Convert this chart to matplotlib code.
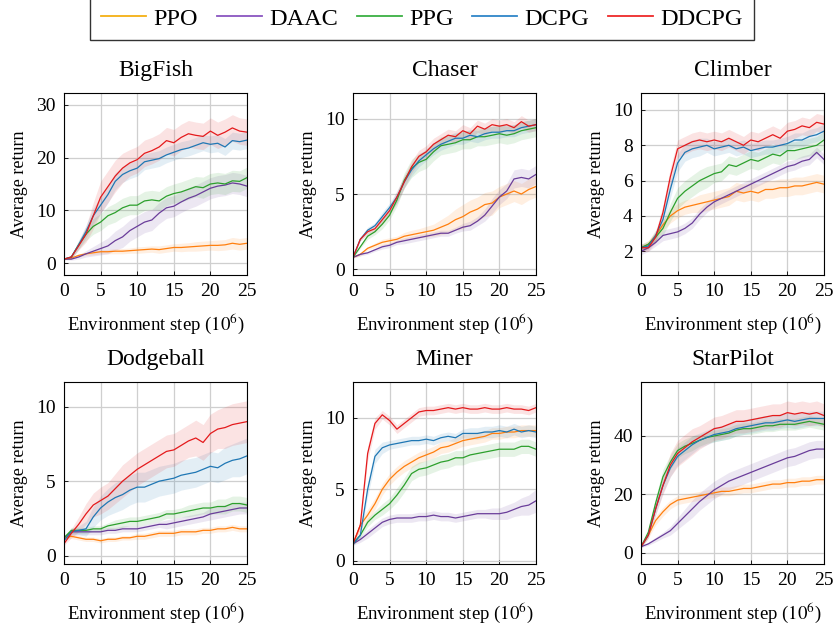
import matplotlib
matplotlib.use("Agg")
import matplotlib.pyplot as plt
import numpy as np

plt.rcParams['font.family'] = ['Liberation Serif', 'DejaVu Serif']
plt.rcParams['mathtext.fontset'] = 'stix'

steps = list(range(26))  # environment step (1e6)
methods = ["PPO", "DAAC", "PPG", "DCPG", "DDCPG"]
colors = ["#ff7f0e", "#6a3d9a", "#2ca02c", "#1f77b4", "#e41a1c"]
legend_colors = ["#f5b014", "#8a55c0", "#3cb043", "#2f86c8", "#ee2a2a"]
games = ["BigFish", "Chaser", "Climber", "Dodgeball", "Miner", "StarPilot"]

bigfish_mean = {
    "PPO":   [0.8, 1.0, 1.5, 1.8, 2.0, 2.2, 2.2, 2.3, 2.3, 2.4, 2.5, 2.6, 2.7, 2.6, 2.8, 3.0, 3.0, 3.1, 3.2, 3.3, 3.4, 3.4, 3.5, 3.8, 3.6, 3.8],
    "DAAC":  [0.8, 0.8, 1.2, 1.8, 2.3, 2.8, 3.3, 4.3, 5.0, 6.2, 7.0, 7.8, 8.2, 9.5, 10.5, 10.8, 11.6, 12.3, 12.8, 13.5, 14.2, 14.6, 14.8, 15.2, 15.0, 14.6],
    "PPG":   [0.8, 1.2, 3.5, 5.5, 7.0, 7.8, 9.0, 9.6, 10.5, 11.0, 11.0, 11.8, 12.0, 11.8, 12.7, 13.2, 13.5, 14.0, 14.5, 14.3, 15.0, 15.2, 15.0, 15.6, 15.5, 16.2],
    "DCPG":  [0.8, 1.2, 3.5, 6.0, 9.0, 11.0, 13.0, 15.5, 16.8, 17.5, 18.0, 19.2, 19.5, 19.8, 20.5, 21.0, 21.5, 21.8, 22.3, 22.8, 22.5, 22.7, 22.0, 23.2, 23.0, 23.3],
    "DDCPG": [0.8, 1.2, 3.3, 5.5, 9.0, 12.5, 14.5, 16.5, 18.0, 19.0, 19.6, 20.8, 21.3, 22.0, 23.2, 22.8, 23.8, 24.5, 24.2, 24.0, 25.0, 24.2, 24.8, 25.6, 25.0, 24.8],
}
bigfish_std = {
    "PPO":   [0.1, 0.2, 0.3, 0.3, 0.4, 0.4, 0.4, 0.5, 0.5, 0.5, 0.6, 0.6, 0.6, 0.7, 0.7, 0.7, 0.8, 0.8, 0.9, 0.9, 0.9, 1.0, 1.0, 1.1, 1.1, 1.1],
    "DAAC":  [0.1, 0.2, 0.4, 0.6, 0.9, 1.2, 1.5, 1.8, 2.0, 2.0, 2.0, 2.0, 2.0, 2.0, 2.0, 2.0, 2.0, 2.0, 2.0, 2.0, 2.0, 2.0, 2.0, 2.0, 2.0, 2.0],
    "PPG":   [0.1, 0.3, 0.8, 1.2, 1.5, 1.6, 1.7, 1.8, 1.8, 1.8, 1.8, 1.8, 1.8, 1.8, 1.8, 1.8, 1.9, 1.9, 1.9, 2.0, 2.0, 2.0, 2.0, 2.0, 2.0, 2.0],
    "DCPG":  [0.1, 0.3, 0.8, 1.2, 1.5, 1.6, 1.6, 1.6, 1.5, 1.5, 1.5, 1.5, 1.5, 1.5, 1.5, 1.5, 1.5, 1.5, 1.5, 1.5, 1.6, 1.6, 1.6, 1.6, 1.6, 1.6],
    "DDCPG": [0.1, 0.3, 0.8, 1.5, 2.5, 3.0, 3.0, 3.0, 2.8, 2.5, 2.5, 2.5, 2.5, 2.5, 2.5, 2.5, 2.5, 2.5, 2.5, 2.5, 2.5, 2.5, 2.5, 2.5, 2.5, 2.5],
}

chaser_mean = {
    "PPO":   [0.8, 1.0, 1.4, 1.6, 1.8, 1.9, 2.0, 2.2, 2.3, 2.4, 2.5, 2.6, 2.8, 3.0, 3.3, 3.5, 3.8, 4.0, 4.3, 4.4, 4.8, 5.0, 5.2, 5.0, 5.3, 5.5],
    "DAAC":  [0.8, 1.0, 1.1, 1.3, 1.5, 1.6, 1.8, 1.9, 2.0, 2.1, 2.2, 2.3, 2.4, 2.4, 2.6, 2.8, 2.9, 3.2, 3.6, 4.2, 4.8, 5.2, 6.0, 6.1, 6.0, 6.3],
    "PPG":   [0.8, 1.5, 2.2, 2.5, 3.0, 3.6, 4.6, 5.9, 6.7, 7.1, 7.3, 7.8, 8.2, 8.3, 8.4, 8.6, 8.6, 8.8, 8.8, 8.9, 9.0, 8.9, 9.0, 9.2, 9.3, 9.4],
    "DCPG":  [0.8, 2.0, 2.6, 2.9, 3.5, 4.1, 4.8, 5.8, 6.6, 7.2, 7.6, 8.0, 8.3, 8.5, 8.7, 8.7, 8.9, 8.8, 9.0, 9.1, 9.1, 9.2, 9.2, 9.4, 9.5, 9.6],
    "DDCPG": [0.8, 2.0, 2.5, 2.7, 3.3, 3.9, 4.8, 5.8, 6.8, 7.5, 7.8, 8.3, 8.6, 8.9, 8.8, 9.2, 9.0, 9.5, 9.3, 9.6, 9.5, 9.6, 9.4, 9.8, 9.5, 9.6],
}
chaser_std = {
    "PPO":   [0.05, 0.1, 0.1, 0.15, 0.2, 0.2, 0.2, 0.25, 0.3, 0.3, 0.35, 0.4, 0.5, 0.6, 0.7, 0.8, 0.8, 0.8, 0.8, 0.8, 0.7, 0.7, 0.7, 0.7, 0.7, 0.7],
    "DAAC":  [0.05, 0.1, 0.1, 0.1, 0.15, 0.15, 0.15, 0.2, 0.2, 0.2, 0.2, 0.2, 0.2, 0.2, 0.2, 0.25, 0.3, 0.3, 0.4, 0.5, 0.5, 0.5, 0.6, 0.6, 0.6, 0.6],
    "PPG":   [0.05, 0.1, 0.2, 0.2, 0.3, 0.3, 0.4, 0.5, 0.6, 0.6, 0.6, 0.6, 0.6, 0.6, 0.6, 0.6, 0.6, 0.6, 0.6, 0.6, 0.6, 0.6, 0.6, 0.6, 0.6, 0.6],
    "DCPG":  [0.05, 0.1, 0.2, 0.2, 0.3, 0.3, 0.4, 0.4, 0.4, 0.4, 0.4, 0.4, 0.4, 0.4, 0.4, 0.4, 0.4, 0.4, 0.4, 0.4, 0.4, 0.4, 0.4, 0.4, 0.4, 0.4],
    "DDCPG": [0.05, 0.1, 0.2, 0.2, 0.3, 0.3, 0.4, 0.4, 0.4, 0.4, 0.4, 0.4, 0.4, 0.4, 0.4, 0.4, 0.4, 0.4, 0.4, 0.4, 0.4, 0.4, 0.4, 0.4, 0.4, 0.4],
}

climber_mean = {
    "PPO":   [2.2, 2.4, 2.9, 3.5, 4.0, 4.3, 4.5, 4.6, 4.7, 4.8, 4.9, 5.0, 5.1, 5.4, 5.3, 5.4, 5.3, 5.5, 5.5, 5.6, 5.6, 5.7, 5.7, 5.8, 5.9, 5.8],
    "DAAC":  [2.0, 2.2, 2.5, 2.9, 3.0, 3.1, 3.3, 3.6, 4.1, 4.5, 4.8, 5.0, 5.2, 5.4, 5.6, 5.8, 6.0, 6.2, 6.4, 6.6, 6.8, 6.9, 7.1, 7.2, 7.6, 7.2],
    "PPG":   [2.2, 2.4, 2.8, 3.3, 4.2, 5.0, 5.4, 5.7, 6.0, 6.2, 6.4, 6.5, 6.9, 6.8, 7.0, 7.2, 7.1, 7.3, 7.5, 7.4, 7.7, 7.7, 7.8, 7.9, 8.0, 8.3],
    "DCPG":  [2.2, 2.3, 2.9, 3.8, 5.5, 7.0, 7.6, 7.8, 7.9, 8.0, 7.8, 7.9, 8.0, 7.8, 7.9, 7.7, 7.8, 7.9, 7.9, 8.0, 8.1, 8.3, 8.3, 8.5, 8.6, 8.8],
    "DDCPG": [2.2, 2.2, 2.8, 4.2, 6.2, 7.8, 8.0, 8.2, 8.3, 8.2, 8.3, 8.2, 8.4, 8.2, 8.0, 8.3, 8.2, 8.4, 8.6, 8.4, 8.8, 8.9, 9.1, 9.0, 9.3, 9.2],
}
climber_std = {
    "PPO":   [0.2, 0.2, 0.3, 0.3, 0.4, 0.4, 0.4, 0.4, 0.5, 0.5, 0.5, 0.5, 0.5, 0.5, 0.5, 0.5, 0.5, 0.5, 0.5, 0.5, 0.5, 0.5, 0.5, 0.5, 0.5, 0.5],
    "DAAC":  [0.2, 0.2, 0.2, 0.3, 0.3, 0.3, 0.3, 0.3, 0.3, 0.3, 0.3, 0.3, 0.3, 0.3, 0.3, 0.3, 0.3, 0.3, 0.3, 0.3, 0.3, 0.3, 0.3, 0.3, 0.3, 0.3],
    "PPG":   [0.2, 0.2, 0.3, 0.4, 0.5, 0.6, 0.6, 0.6, 0.6, 0.6, 0.5, 0.5, 0.5, 0.5, 0.5, 0.5, 0.5, 0.5, 0.5, 0.5, 0.5, 0.5, 0.5, 0.5, 0.5, 0.5],
    "DCPG":  [0.2, 0.2, 0.3, 0.4, 0.5, 0.5, 0.5, 0.5, 0.5, 0.4, 0.4, 0.4, 0.4, 0.4, 0.4, 0.4, 0.4, 0.4, 0.4, 0.4, 0.4, 0.4, 0.4, 0.4, 0.4, 0.4],
    "DDCPG": [0.2, 0.2, 0.3, 0.4, 0.5, 0.5, 0.5, 0.5, 0.5, 0.5, 0.5, 0.5, 0.5, 0.5, 0.5, 0.5, 0.5, 0.5, 0.5, 0.5, 0.5, 0.5, 0.5, 0.5, 0.5, 0.5],
}

dodgeball_mean = {
    "PPO":   [1.2, 1.3, 1.2, 1.1, 1.1, 1.0, 1.1, 1.1, 1.2, 1.2, 1.3, 1.3, 1.4, 1.5, 1.5, 1.5, 1.6, 1.6, 1.6, 1.7, 1.7, 1.8, 1.8, 1.9, 1.8, 1.8],
    "DAAC":  [1.2, 1.6, 1.6, 1.6, 1.6, 1.6, 1.7, 1.7, 1.8, 1.8, 1.8, 1.9, 2.0, 2.1, 2.1, 2.2, 2.3, 2.4, 2.5, 2.6, 2.8, 2.9, 3.0, 3.1, 3.2, 3.2],
    "PPG":   [1.2, 1.7, 1.7, 1.7, 1.8, 1.8, 2.0, 2.1, 2.2, 2.3, 2.3, 2.4, 2.5, 2.6, 2.8, 2.8, 2.9, 3.0, 3.1, 3.2, 3.2, 3.3, 3.3, 3.5, 3.5, 3.4],
    "DCPG":  [1.0, 1.6, 1.7, 1.8, 2.6, 3.2, 3.6, 3.9, 4.1, 4.4, 4.6, 4.6, 4.8, 5.0, 5.1, 5.2, 5.4, 5.5, 5.6, 5.8, 6.0, 5.9, 6.2, 6.4, 6.5, 6.7],
    "DDCPG": [0.8, 1.5, 2.1, 2.8, 3.4, 3.7, 4.0, 4.5, 5.0, 5.4, 5.8, 6.1, 6.4, 6.7, 7.0, 7.1, 7.4, 7.7, 7.9, 7.6, 8.2, 8.5, 8.6, 8.8, 8.9, 9.0],
}
dodgeball_std = {
    "PPO":   [0.1, 0.15, 0.15, 0.15, 0.15, 0.15, 0.15, 0.15, 0.15, 0.15, 0.2, 0.2, 0.2, 0.2, 0.2, 0.2, 0.2, 0.2, 0.2, 0.2, 0.2, 0.2, 0.2, 0.2, 0.2, 0.2],
    "DAAC":  [0.1, 0.2, 0.2, 0.2, 0.2, 0.2, 0.2, 0.2, 0.2, 0.2, 0.2, 0.2, 0.2, 0.2, 0.3, 0.3, 0.3, 0.3, 0.3, 0.3, 0.4, 0.4, 0.4, 0.4, 0.4, 0.4],
    "PPG":   [0.1, 0.2, 0.2, 0.2, 0.2, 0.2, 0.2, 0.3, 0.3, 0.3, 0.3, 0.3, 0.3, 0.3, 0.3, 0.3, 0.3, 0.4, 0.4, 0.4, 0.4, 0.5, 0.5, 0.5, 0.5, 0.5],
    "DCPG":  [0.1, 0.2, 0.3, 0.5, 0.7, 0.8, 0.9, 1.0, 1.0, 1.0, 1.0, 1.0, 1.0, 1.0, 1.0, 1.0, 1.0, 1.0, 1.0, 1.0, 1.0, 1.0, 1.1, 1.1, 1.2, 1.2],
    "DDCPG": [0.1, 0.3, 0.5, 0.7, 0.8, 0.9, 0.9, 1.0, 1.1, 1.1, 1.1, 1.1, 1.1, 1.1, 1.1, 1.1, 1.1, 1.1, 1.2, 1.2, 1.3, 1.3, 1.4, 1.4, 1.4, 1.4],
}

miner_mean = {
    "PPO":   [1.2, 2.5, 3.2, 4.0, 5.0, 5.7, 6.2, 6.6, 6.9, 7.2, 7.4, 7.6, 7.9, 8.0, 8.2, 8.4, 8.5, 8.6, 8.7, 8.9, 8.9, 9.0, 9.0, 9.1, 9.1, 9.1],
    "DAAC":  [1.2, 1.5, 1.9, 2.3, 2.7, 2.9, 3.0, 3.0, 3.0, 3.1, 3.1, 3.2, 3.1, 3.1, 3.0, 3.1, 3.2, 3.3, 3.3, 3.3, 3.3, 3.4, 3.6, 3.8, 3.9, 4.2],
    "PPG":   [1.2, 1.8, 2.7, 3.2, 3.6, 4.0, 4.6, 5.3, 6.1, 6.4, 6.5, 6.7, 6.9, 7.0, 7.2, 7.2, 7.4, 7.5, 7.6, 7.7, 7.8, 7.8, 7.8, 8.0, 8.0, 7.8],
    "DCPG":  [1.2, 1.8, 5.0, 7.3, 7.9, 8.1, 8.2, 8.3, 8.4, 8.4, 8.5, 8.4, 8.6, 8.7, 8.6, 8.9, 8.9, 8.9, 9.0, 9.0, 9.1, 9.0, 9.2, 9.0, 9.1, 9.0],
    "DDCPG": [1.2, 2.5, 7.5, 9.6, 10.2, 9.8, 9.2, 9.6, 10.0, 10.4, 10.5, 10.5, 10.6, 10.7, 10.6, 10.7, 10.6, 10.6, 10.7, 10.6, 10.6, 10.7, 10.6, 10.6, 10.5, 10.7],
}
miner_std = {
    "PPO":   [0.1, 0.3, 0.4, 0.4, 0.4, 0.4, 0.4, 0.4, 0.4, 0.4, 0.4, 0.4, 0.4, 0.4, 0.4, 0.4, 0.4, 0.4, 0.4, 0.4, 0.4, 0.4, 0.4, 0.4, 0.4, 0.4],
    "DAAC":  [0.1, 0.2, 0.3, 0.3, 0.3, 0.3, 0.3, 0.3, 0.3, 0.3, 0.3, 0.3, 0.3, 0.3, 0.3, 0.3, 0.3, 0.3, 0.3, 0.4, 0.4, 0.5, 0.5, 0.6, 0.7, 0.8],
    "PPG":   [0.1, 0.2, 0.3, 0.3, 0.4, 0.4, 0.5, 0.5, 0.5, 0.5, 0.5, 0.5, 0.5, 0.5, 0.5, 0.5, 0.5, 0.5, 0.5, 0.5, 0.5, 0.5, 0.5, 0.5, 0.5, 0.5],
    "DCPG":  [0.1, 0.2, 0.5, 0.5, 0.4, 0.3, 0.3, 0.3, 0.3, 0.3, 0.3, 0.3, 0.3, 0.3, 0.3, 0.3, 0.4, 0.4, 0.4, 0.4, 0.4, 0.4, 0.4, 0.4, 0.4, 0.4],
    "DDCPG": [0.1, 0.3, 0.5, 0.4, 0.3, 0.3, 0.3, 0.3, 0.3, 0.3, 0.3, 0.3, 0.3, 0.3, 0.3, 0.3, 0.3, 0.3, 0.3, 0.3, 0.3, 0.3, 0.3, 0.3, 0.3, 0.3],
}

starpilot_mean = {
    "PPO":   [2.0, 6.0, 11.0, 14.0, 16.5, 18.0, 18.5, 19.0, 19.5, 20.0, 20.5, 21.0, 21.0, 21.5, 22.0, 22.0, 22.5, 23.0, 23.5, 23.5, 24.0, 24.0, 24.5, 24.5, 25.0, 25.0],
    "DAAC":  [2.0, 3.0, 4.5, 6.0, 7.5, 10.0, 12.5, 15.0, 17.5, 19.5, 21.5, 23.0, 24.5, 25.5, 26.5, 27.5, 28.5, 29.5, 30.5, 31.5, 32.5, 33.0, 34.0, 35.0, 35.5, 35.5],
    "PPG":   [2.0, 7.0, 17.0, 26.0, 31.0, 35.0, 36.5, 37.5, 38.5, 39.5, 40.0, 40.5, 41.0, 42.0, 42.5, 42.5, 43.0, 43.5, 43.5, 44.0, 44.0, 44.0, 44.5, 45.0, 44.5, 44.0],
    "DCPG":  [2.0, 6.0, 15.0, 23.0, 29.0, 33.0, 35.0, 37.0, 38.5, 39.5, 40.5, 41.0, 41.5, 42.5, 43.0, 43.5, 44.0, 44.5, 44.5, 45.0, 45.5, 45.0, 45.5, 46.0, 46.0, 46.0],
    "DDCPG": [2.0, 6.0, 15.0, 23.0, 30.0, 34.0, 36.0, 38.0, 39.5, 41.0, 42.5, 43.0, 44.0, 45.0, 45.0, 45.5, 46.0, 46.5, 47.0, 47.0, 48.0, 47.5, 48.0, 47.5, 48.0, 47.0],
}
starpilot_std = {
    "PPO":   [0.3, 1.0, 1.5, 1.5, 1.5, 1.5, 1.5, 1.5, 1.5, 1.5, 1.5, 1.5, 1.5, 1.5, 1.5, 1.5, 1.5, 1.5, 1.5, 1.5, 1.5, 1.5, 1.5, 1.5, 1.5, 1.5],
    "DAAC":  [0.3, 0.5, 0.8, 1.0, 1.5, 2.0, 2.5, 3.0, 3.0, 3.0, 3.0, 3.0, 3.0, 3.0, 3.0, 3.0, 3.0, 3.0, 3.0, 3.0, 3.0, 3.0, 3.0, 3.0, 3.0, 3.0],
    "PPG":   [0.3, 1.0, 2.0, 2.5, 2.5, 2.5, 2.5, 2.5, 2.0, 2.0, 2.0, 2.0, 2.0, 2.0, 2.0, 2.0, 2.0, 2.0, 2.0, 2.0, 2.0, 2.0, 2.0, 2.0, 2.0, 2.0],
    "DCPG":  [0.3, 1.0, 2.0, 2.5, 3.0, 3.0, 3.0, 3.0, 2.5, 2.5, 2.5, 2.5, 2.5, 2.5, 2.5, 2.5, 2.5, 2.5, 2.5, 2.5, 2.5, 2.5, 2.5, 2.5, 2.5, 2.5],
    "DDCPG": [0.3, 1.0, 2.0, 3.0, 4.0, 4.5, 4.5, 4.5, 4.0, 4.0, 4.0, 4.0, 4.0, 4.0, 4.0, 4.0, 4.0, 4.0, 4.0, 4.0, 4.0, 4.0, 4.0, 4.0, 4.0, 4.0],
}

means = [bigfish_mean, chaser_mean, climber_mean, dodgeball_mean, miner_mean, starpilot_mean]
stds = [bigfish_std, chaser_std, climber_std, dodgeball_std, miner_std, starpilot_std]
ylims = [(-2.2, 32.2), (-0.37, 11.7), (0.66, 10.96), (-0.56, 11.66), (-0.21, 12.49), (-3.9, 58.5)]
yticks = [[0, 10, 20, 30], [0, 5, 10], [2, 4, 6, 8, 10], [0, 5, 10], [0, 5, 10], [0, 20, 40]]
xticks = [0, 5, 10, 15, 20, 25]

W, H = 835, 626
fig = plt.figure(figsize=(W / 100, H / 100), dpi=100)
lefts = [64, 353, 641]
tops = [93, 382]
aw, ah = 183, 182

x = np.array(steps)
for i, g in enumerate(games):
    r, c = divmod(i, 3)
    ax = fig.add_axes([lefts[c] / W, (H - tops[r] - ah) / H, aw / W, ah / H])
    for m, col in zip(methods, colors):
        mu = np.array(means[i][m])
        sd = np.array(stds[i][m])
        ax.fill_between(x, mu - sd, mu + sd, color=col, alpha=0.12, lw=0)
        ax.plot(x, mu, color=col, lw=0.9)
    ax.set_xlim(0, 25)
    ax.set_ylim(*ylims[i])
    ax.set_xticks(xticks)
    ax.set_yticks(yticks[i])
    ax.grid(True, color="#cfcfcf", lw=0.9)
    ax.set_axisbelow(True)
    ax.tick_params(direction="in", length=3, width=0.6, labelsize=14, pad=6)
    for s in ax.spines.values():
        s.set_linewidth(0.8)
    ax.set_title(g, fontsize=17, pad=12)
    ax.set_ylabel("Average return", fontsize=13, labelpad=6)
    ax.set_xlabel(r"Environment step ($10^6$)", fontsize=13.5, labelpad=8)

handles = [plt.Line2D([], [], color=c, lw=1.3) for c in legend_colors]
fig.legend(handles, methods, loc="upper center", bbox_to_anchor=(0.5054, 1.0048), ncol=5,
           fontsize=17.5, frameon=True, fancybox=False, edgecolor="#333333", framealpha=1,
           handlelength=1.85, columnspacing=0.78, handletextpad=0.3, borderpad=0.44,
           borderaxespad=0)

fig.savefig("out.png", dpi=100)
